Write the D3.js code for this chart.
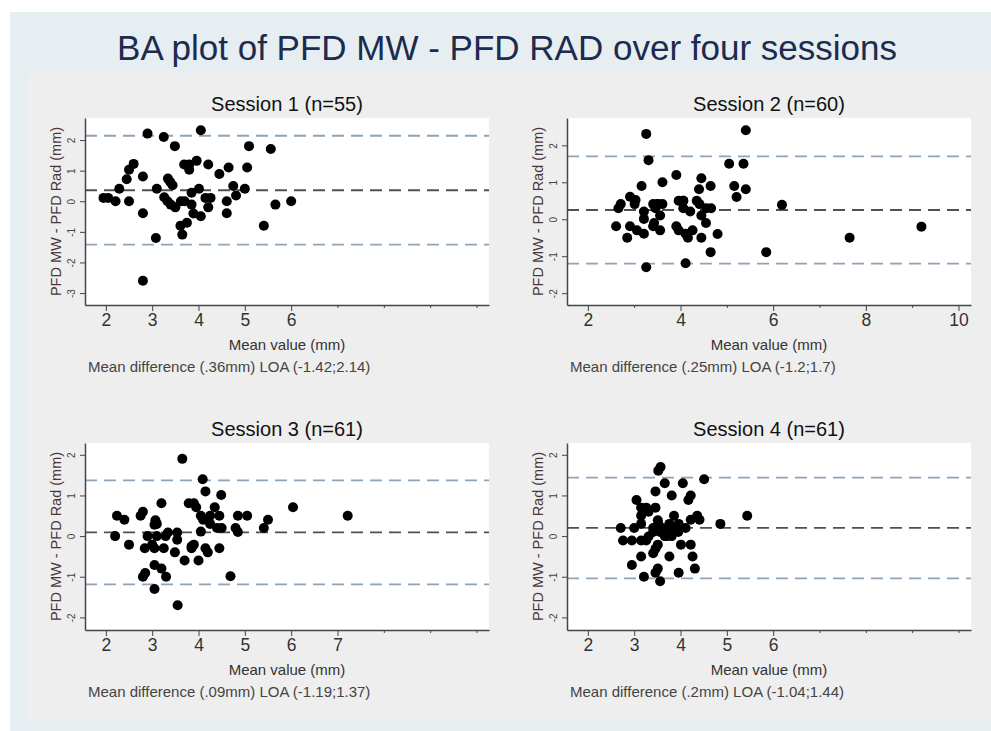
<!DOCTYPE html>
<html>
<head>
<meta charset="utf-8">
<script src="https://cdn.jsdelivr.net/npm/d3@7"></script>
<style>
  body { margin: 0; background: #ffffff; }
  text { font-family: "Liberation Sans", Arial, sans-serif; }
</style>
</head>
<body>
<div id="chart"></div>
<script>
// Session info
let sessionNames = ["Session 1 (n=55)", "Session 2 (n=60)", "Session 3 (n=61)", "Session 4 (n=61)"];
let meanDiff = [0.36, 0.25, 0.09, 0.2];
let lowerLOA = [-1.42, -1.2, -1.19, -1.04];
let upperLOA = [2.14, 1.7, 1.37, 1.44];
let footNotes = [
  "Mean difference (.36mm) LOA (-1.42;2.14)",
  "Mean difference (.25mm) LOA (-1.2;1.7)",
  "Mean difference (.09mm) LOA (-1.19;1.37)",
  "Mean difference (.2mm) LOA (-1.04;1.44)"
];

// Tick labels per panel
let xMajorTicks = [[2, 3, 4, 5, 6], [2, 4, 6, 8, 10], [2, 3, 4, 5, 6, 7], [2, 3, 4, 5, 6]];
let xMinorTicks = [[7, 8, 9, 10], [3, 5, 7, 9], [8, 9, 10], [7, 8, 9, 10]];
let yTicks = [[-3, -2, -1, 0, 1, 2], [-2, -1, 0, 1, 2], [-2, -1, 0, 1, 2], [-2, -1, 0, 1, 2]];
let yDomains = [[-3.39, 2.72], [-2.32, 2.74], [-2.31, 2.29], [-2.31, 2.29]];

// Session 1 : mean value (x) & difference (y)
let s1Mean = [2.90, 3.25, 4.05, 3.49, 5.09, 5.56, 2.60, 2.50, 2.45, 2.80, 2.29, 1.95, 2.05, 2.21, 2.50,
  2.80, 3.10, 3.08, 2.80, 3.34, 3.39, 3.44, 3.26, 3.33, 3.40, 3.50, 3.62, 3.70, 3.69, 3.80,
  3.80, 3.96, 4.21, 3.85, 4.01, 3.85, 3.89, 4.05, 3.75, 3.61, 3.65, 4.15, 4.26, 4.21, 4.45,
  4.65, 4.75, 4.81, 4.61, 4.61, 5.00, 5.05, 5.41, 5.66, 6.00];
let s1Diff = [2.21, 2.10, 2.32, 1.80, 1.80, 1.71, 1.22, 1.03, 0.72, 0.81, 0.41, 0.11, 0.11, 0.0, 0.0,
  -0.39, 0.41, -1.20, -2.60, 0.74, 0.63, 0.52, 0.13, 0.0, -0.11, -0.20, 0.0, 0.0, 1.20, 1.20,
  1.03, 1.32, 1.20, 0.28, 0.41, -0.11, -0.40, -0.49, -0.70, -0.80, -1.09, 0.11, 0.11, -0.20, 0.89,
  1.10, 0.50, 0.19, 0.0, -0.39, 0.41, 1.10, -0.80, -0.11, 0.0];

// Session 2
let s2Mean = [3.26, 3.31, 5.41, 5.05, 5.36, 5.16, 5.21, 5.41, 3.16, 3.61, 3.91, 4.45, 4.40, 4.65, 2.91,
  2.71, 2.66, 3.03, 3.01, 2.61, 2.91, 2.85, 3.06, 3.21, 3.21, 3.21, 3.41, 3.51, 3.61, 3.46,
  3.56, 3.43, 3.41, 3.56, 3.91, 3.96, 3.96, 4.06, 4.06, 4.21, 4.11, 4.16, 4.26, 4.35, 4.41,
  4.45, 4.55, 4.45, 4.56, 4.66, 4.80, 4.65, 4.11, 3.26, 5.85, 6.19, 7.65, 9.20, 3.51, 4.06];
let s2Diff = [2.31, 1.60, 2.41, 1.50, 1.50, 0.90, 0.60, 0.81, 0.90, 1.00, 1.20, 1.11, 0.81, 0.90, 0.61,
  0.41, 0.30, 0.52, 0.41, -0.19, -0.19, -0.50, -0.30, -0.39, 0.21, 0.01, 0.41, 0.41, 0.41, 0.30,
  0.10, -0.10, -0.19, -0.30, -0.19, -0.30, 0.50, 0.50, 0.30, 0.21, -0.39, -0.50, -0.30, 0.50, 0.41,
  0.10, -0.10, -0.50, 0.30, 0.30, -0.40, -0.89, -1.19, -1.30, -0.89, 0.39, -0.50, -0.20, 0.41, 0.50];

// Session 3
let s3Mean = [3.65, 4.09, 4.15, 4.49, 3.20, 3.79, 3.90, 3.95, 4.35, 6.04, 7.22, 2.24, 2.40, 2.75, 2.80,
  2.20, 2.50, 2.90, 3.07, 3.10, 3.05, 3.10, 2.84, 3.00, 3.05, 3.25, 3.29, 3.34, 3.54, 3.54,
  3.49, 3.70, 3.90, 3.85, 4.00, 4.15, 4.20, 4.05, 4.10, 4.25, 4.25, 4.45, 4.05, 4.40, 4.50,
  4.45, 4.85, 5.05, 4.80, 4.85, 5.50, 5.41, 4.69, 3.05, 3.20, 2.85, 2.80, 3.30, 3.05, 3.55, 3.85];
let s3Diff = [1.90, 1.40, 1.10, 1.01, 0.81, 0.81, 0.81, 0.71, 0.71, 0.71, 0.50, 0.50, 0.40, 0.50, 0.60,
  0.0, -0.21, 0.0, 0.39, 0.30, 0.28, 0.0, -0.30, -0.21, -0.30, -0.30, 0.0, 0.09, 0.09, -0.09,
  -0.40, -0.60, -0.21, -0.30, -0.60, -0.30, -0.40, 0.50, 0.40, 0.50, 0.30, 0.50, 0.11, 0.20, 0.20,
  -0.30, 0.50, 0.50, 0.20, 0.10, 0.40, 0.20, -0.99, -0.71, -0.80, -0.91, -1.00, -1.00, -1.30, -1.70, -0.25];

// Session 4
let s4Mean = [3.57, 3.52, 3.66, 4.05, 4.51, 3.46, 3.81, 4.22, 4.17, 3.05, 3.15, 3.26, 3.46, 3.31, 3.15,
  3.86, 4.36, 5.44, 4.41, 4.22, 3.15, 4.86, 2.71, 3.00, 3.41, 3.51, 3.52, 3.46, 3.61, 3.76,
  3.96, 3.91, 4.11, 3.71, 3.81, 3.95, 3.71, 3.81, 3.56, 3.41, 2.76, 2.95, 3.15, 3.26, 3.31,
  3.51, 3.46, 3.41, 4.01, 4.22, 3.15, 3.76, 4.26, 2.95, 4.31, 3.51, 3.46, 3.96, 3.21, 3.56, 3.66];
let s4Diff = [1.70, 1.61, 1.30, 1.30, 1.40, 1.10, 1.00, 1.00, 0.89, 0.89, 0.70, 0.70, 0.70, 0.60, 0.50,
  0.50, 0.50, 0.50, 0.40, 0.40, 0.30, 0.30, 0.20, 0.20, 0.20, 0.39, 0.30, 0.20, 0.20, 0.30,
  0.30, 0.20, 0.20, 0.10, 0.10, 0.10, 0.0, 0.0, 0.10, 0.10, -0.11, -0.11, -0.11, -0.11, -0.01,
  -0.21, -0.31, -0.42, -0.21, -0.21, -0.50, -0.50, -0.50, -0.71, -0.80, -0.80, -0.90, -0.90, -1.00, -1.11, 0.0];

let sessionMeans = [s1Mean, s2Mean, s3Mean, s4Mean];
let sessionDiffs = [s1Diff, s2Diff, s3Diff, s4Diff];

// Define SVG area dimensions
let svgWidth = 991;
let svgHeight = 731;

// Plot regions (left, top) of the four panels
let panelPos = [[85, 118], [567, 118], [85, 443], [567, 443]];
let plotWidth = 404;
let plotHeight = 187;

let svg = d3.select("#chart")
  .append("svg")
  .attr("width", svgWidth)
  .attr("height", svgHeight);

// Backgrounds
svg.append("rect")
  .attr("x", 10).attr("y", 12)
  .attr("width", svgWidth - 10).attr("height", svgHeight - 12)
  .attr("fill", "#e7eef1");

svg.append("rect")
  .attr("x", 27).attr("y", 73)
  .attr("width", svgWidth - 27).attr("height", 648)
  .attr("fill", "#eeeeee");

// Main title
svg.append("text")
  .attr("x", 507)
  .attr("y", 60)
  .attr("text-anchor", "middle")
  .attr("font-size", "35px")
  .attr("fill", "#1c2b4e")
  .text("BA plot of PFD MW - PFD RAD over four sessions");

sessionNames.forEach(function (name, i) {
  let chartGroup = svg.append("g")
    .attr("transform", `translate(${panelPos[i][0]}, ${panelPos[i][1]})`);

  // scales
  let xLinearScale = d3.scaleLinear().domain([1.55, 10.27]).range([0, plotWidth]);
  let yLinearScale = d3.scaleLinear().domain(yDomains[i]).range([plotHeight, 0]);

  // plot area
  chartGroup.append("rect")
    .attr("width", plotWidth)
    .attr("height", plotHeight)
    .attr("fill", "#ffffff");

  // reference lines: LOA & mean difference
  let refLines = [
    { v: upperLOA[i], color: "#8fa4b8" },
    { v: lowerLOA[i], color: "#8fa4b8" },
    { v: meanDiff[i], color: "#505050" }
  ];
  chartGroup.selectAll(".refLine")
    .data(refLines)
    .enter()
    .append("line")
    .attr("x1", 0)
    .attr("x2", plotWidth)
    .attr("y1", (d) => yLinearScale(d.v))
    .attr("y2", (d) => yLinearScale(d.v))
    .attr("stroke", (d) => d.color)
    .attr("stroke-width", 1.8)
    .attr("stroke-dasharray", "12,7");

  // points
  chartGroup.selectAll("circle")
    .data(sessionMeans[i].map((m, k) => [m, sessionDiffs[i][k]]))
    .enter()
    .append("circle")
    .attr("cx", (d) => xLinearScale(d[0]))
    .attr("cy", (d) => yLinearScale(d[1]))
    .attr("r", 5)
    .attr("fill", "#000000");

  // y axis
  let leftAxis = d3.axisLeft(yLinearScale)
    .tickValues(yTicks[i])
    .tickFormat((d) => String(d))
    .tickSize(5)
    .tickSizeOuter(0);
  let yAxis = chartGroup.append("g").call(leftAxis);
  yAxis.select(".domain").attr("stroke", "#444").attr("stroke-width", 1.5);
  yAxis.selectAll(".tick line").attr("stroke", "#444");
  yAxis.selectAll(".tick text")
    .attr("transform", "rotate(-90)")
    .attr("x", 0)
    .attr("y", -10)
    .attr("dy", 0)
    .attr("text-anchor", "middle")
    .attr("font-size", "10px")
    .attr("font-family", "Liberation Sans, Arial, sans-serif")
    .attr("fill", "#444");

  // x axis (major labelled ticks + minor ticks)
  let bottomAxis = d3.axisBottom(xLinearScale)
    .tickValues(xMajorTicks[i])
    .tickFormat((d) => String(d))
    .tickSize(6)
    .tickSizeOuter(0);
  let xAxis = chartGroup.append("g")
    .attr("transform", `translate(0, ${plotHeight})`)
    .call(bottomAxis);
  xAxis.select(".domain").attr("stroke", "#444").attr("stroke-width", 1.5);
  xAxis.selectAll(".tick line").attr("stroke", "#444");
  xAxis.selectAll(".tick text")
    .attr("y", 9)
    .attr("dy", "0.71em")
    .attr("font-size", "17.5px")
    .attr("font-family", "Liberation Sans, Arial, sans-serif")
    .attr("fill", "#333");

  let minorAxis = d3.axisBottom(xLinearScale).tickValues(xMinorTicks[i]).tickSize(3).tickSizeOuter(0).tickFormat("");
  let xMinor = chartGroup.append("g")
    .attr("transform", `translate(0, ${plotHeight})`)
    .call(minorAxis);
  xMinor.select(".domain").remove();
  xMinor.selectAll(".tick line").attr("stroke", "#444");

  // session title
  chartGroup.append("text")
    .attr("x", plotWidth / 2)
    .attr("y", -7)
    .attr("text-anchor", "middle")
    .attr("font-size", "20px")
    .attr("fill", "#111")
    .text(name);

  // y axis title
  chartGroup.append("text")
    .attr("transform", `translate(-24, ${plotHeight / 2}) rotate(-90)`)
    .attr("text-anchor", "middle")
    .attr("font-size", "14.5px")
    .attr("fill", "#4a3838")
    .text("PFD MW - PFD Rad (mm)");

  // x axis title
  chartGroup.append("text")
    .attr("x", plotWidth / 2)
    .attr("y", plotHeight + 45)
    .attr("text-anchor", "middle")
    .attr("font-size", "15px")
    .attr("fill", "#333")
    .text("Mean value (mm)");

  // footnote
  chartGroup.append("text")
    .attr("x", 3)
    .attr("y", plotHeight + 67)
    .attr("font-size", "15px")
    .attr("fill", "#444")
    .text(footNotes[i]);
});
</script>
</body>
</html>
